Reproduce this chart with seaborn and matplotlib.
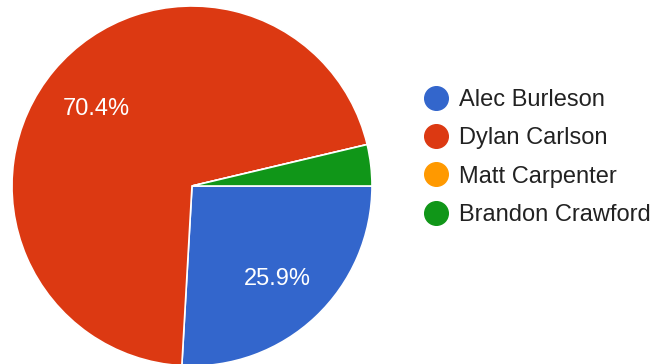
import matplotlib
matplotlib.use("Agg")
import matplotlib.pyplot as plt
from matplotlib.lines import Line2D
import seaborn as sns

players = ["Alec Burleson", "Dylan Carlson", "Matt Carpenter", "Brandon Crawford"]
shares = [25.9, 70.4, 0.0, 3.7]
colors = ["#3366CC", "#DC3912", "#FF9900", "#109618"]

sns.set_theme(style="white")
plt.rcParams["font.family"] = ["Liberation Sans", "DejaVu Sans"]

W, H = 670, 364
fig = plt.figure(figsize=(W / 100, H / 100), dpi=100)
fig.patch.set_facecolor("white")

# square axes holding the pie (radius 180 px, centre at 192, 186 from top-left)
cx, cy, r = 192, 186, 180
ax = fig.add_axes([(cx - r) / W, (H - cy - r) / H, 2 * r / W, 2 * r / H])


def pct_label(p):
    return f"{p:.1f}%" if p >= 5 else ""


wedges, texts, autotexts = ax.pie(
    shares,
    colors=colors,
    startangle=0,
    counterclock=False,
    autopct=pct_label,
    pctdistance=0.69,
    wedgeprops=dict(edgecolor="white", linewidth=1.2),
    textprops=dict(color="white", fontsize=17),
)
for t in autotexts:
    t.set_va("center_baseline")
ax.set_xlim(-1, 1)
ax.set_ylim(-1, 1)
ax.set_aspect("equal")
ax.axis("off")

handles = [
    Line2D([0], [0], marker="o", linestyle="none", markersize=17,
           markerfacecolor=c, markeredgecolor=c)
    for c in colors
]
fig.legend(
    handles, players,
    loc="upper left",
    bbox_to_anchor=(424 / W, 1 - 89 / H),
    frameon=False,
    fontsize=17,
    labelcolor="#222222",
    handletextpad=0.47,
    handlelength=1.0,
    labelspacing=0.69,
    borderpad=0,
    borderaxespad=0,
)

fig.savefig("out.png", dpi=100, facecolor="white")
